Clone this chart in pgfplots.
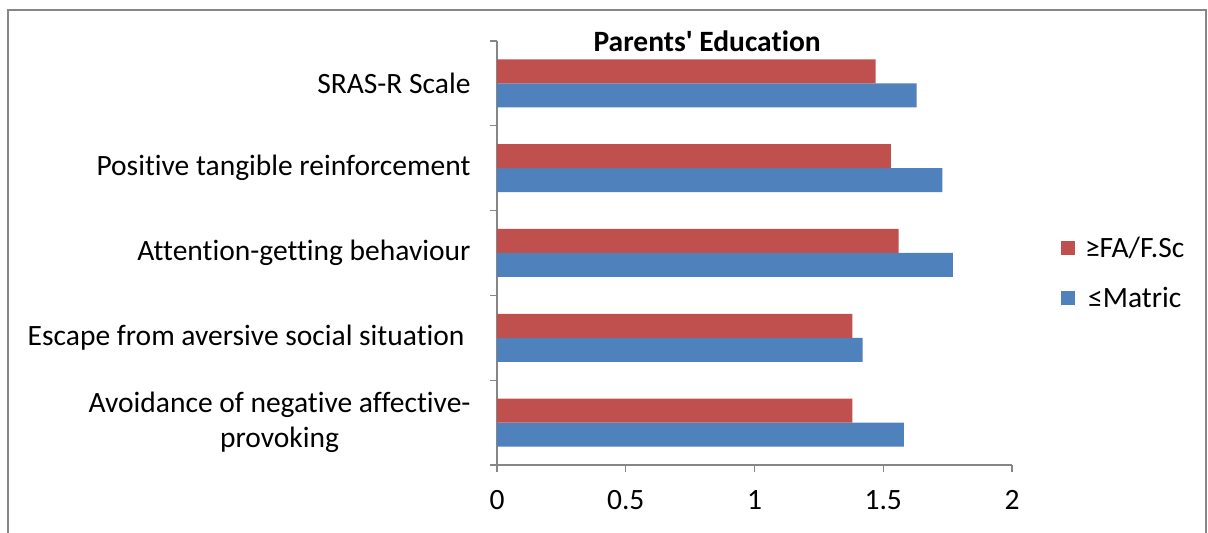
\documentclass[border=0pt]{standalone}
\usepackage{fontspec}
\setmainfont{Carlito}[Ligatures={TeXOff,NoCommon}]
\usepackage{pgfplots}
\pgfplotsset{compat=1.18}
\definecolor{cred}{HTML}{C0504D}
\definecolor{cblue}{HTML}{4F81BD}
\definecolor{axgray}{HTML}{868686}
\newcommand{\cf}{\fontsize{29.5bp}{35bp}\selectfont}
\begin{document}
\begin{tikzpicture}[x=1bp,y=1bp]
\useasboundingbox (0,0) rectangle (1208,533);
\draw[axgray, line width=1.2bp] (8,-5) rectangle (1206,523);
\begin{axis}[
  at={(497bp,68bp)}, anchor=south west,
  scale only axis, width=515bp, height=424bp,
  xbar=0pt, bar width=24bp,
  xmin=0, xmax=2, ymin=-0.5, ymax=4.5,
  axis lines*=left,
  axis line style={axgray, line width=1.2bp},
  tick align=outside,
  xtick={0,0.5,1,1.5,2},
  xticklabels={0,0.5,1,1.5,2},
  ytick={0,1,2,3,4},
  yticklabels={{Avoidance of negative affective-\\provoking},{Escape from aversive social situation\hspace*{6bp}},{Attention-getting behaviour},{Positive tangible reinforcement},{SRAS-R Scale}},
  minor ytick={-0.5,0.5,1.5,2.5,3.5,4.5},
  major tick length=7bp, minor tick length=7bp,
  major x tick style={axgray, line width=1.2bp},
  major y tick style={draw=none},
  minor y tick style={axgray, line width=1.2bp},
  tick label style={font=\cf, text=black},
  yticklabel style={align=center, xshift=-16bp},
  xticklabel style={yshift=-15bp},
  title={\textbf{Parents' Education}},
  title style={at={(0.408,1)}, anchor=center, yshift=-6bp, font=\cf},
  legend style={at={(1.089,0.453)}, anchor=west, draw=none, fill=none, font=\cf, row sep=25bp,
    /tikz/every odd column/.append style={column sep=8bp}},
  legend image code/.code={\fill[#1] (0bp,-7bp) rectangle (14bp,7bp);},
  reverse legend,
]
\addplot[fill=cblue, draw=none] coordinates {(1.58,0) (1.42,1) (1.77,2) (1.73,3) (1.63,4)};
\addplot[fill=cred, draw=none] coordinates {(1.38,0) (1.38,1) (1.56,2) (1.53,3) (1.47,4)};
\legend{≤Matric, ≥FA/F.Sc}
\end{axis}
\end{tikzpicture}
\end{document}
